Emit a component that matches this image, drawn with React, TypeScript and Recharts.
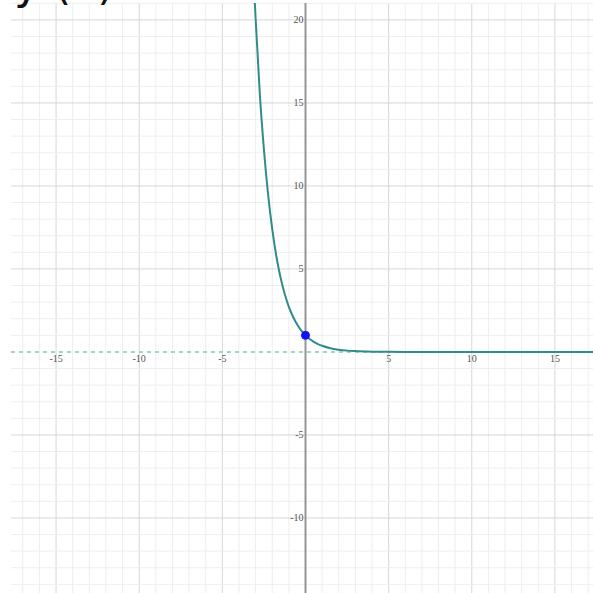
import { ComposedChart, Line, XAxis, YAxis, ReferenceLine, ReferenceDot } from 'recharts'

// visible window of the graph paper
const X_DOMAIN: [number, number] = [-17.71, 17.29]
const Y_DOMAIN: [number, number] = [-14.52, 21.02]

// sampled points of the decaying curve
const curveX = [-3.05, -3, -2.75, -2.5, -2.25, -2, -1.75, -1.5, -1.25, -1, -0.75, -0.5, -0.25, 0, 0.25, 0.5, 0.75, 1, 1.5, 2, 2.5, 3, 4, 5, 6, 8, 12, 17.3]
const curveY = [21.1, 20.1, 15.6, 12.2, 9.5, 7.4, 5.75, 4.48, 3.49, 2.72, 2.12, 1.65, 1.28, 1, 0.78, 0.61, 0.47, 0.37, 0.22, 0.135, 0.08, 0.05, 0.018, 0.007, 0.002, 0, 0, 0]

// the highlighted point on the curve
const markedPoint = { x: 0, y: 1 }

// axis numbers
const xTicks = [-15, -10, -5, 5, 10, 15]
const yTicks = [-10, -5, 5, 10, 15, 20]

const range = (a: number, b: number) => Array.from({ length: b - a + 1 }, (_, i) => a + i)
const gridX = range(-17, 17)
const gridY = range(-14, 21)

const curve = curveX.map((x, i) => ({ x, y: curveY[i] }))

const MINOR = '#eeeeee'
const MAJOR = '#d6d6d6'
const LABEL_FONT = '"Liberation Serif", "DejaVu Serif", serif'

export default function App() {
  return (
    <div style={{ position: 'absolute', left: 0, top: 0, width: 593, height: 593, background: '#fff', overflow: 'hidden' }}>
      <ComposedChart
        width={593}
        height={593}
        data={curve}
        margin={{ top: 3, right: 0, bottom: 0, left: 11 }}
      >
        <XAxis type="number" dataKey="x" domain={X_DOMAIN} allowDataOverflow hide />
        <YAxis type="number" domain={Y_DOMAIN} allowDataOverflow hide />

        {gridX.map((v) => (
          <ReferenceLine key={`gx${v}`} x={v} stroke={v % 5 === 0 ? MAJOR : MINOR} strokeWidth={1} />
        ))}
        {gridY.map((v) => (
          v === 0 ? null : <ReferenceLine key={`gy${v}`} y={v} stroke={v % 5 === 0 ? MAJOR : MINOR} strokeWidth={1} />
        ))}

        <ReferenceLine x={0} stroke="#959595" strokeWidth={2} />
        <ReferenceLine y={0} stroke="#a4d3cf" strokeWidth={2} strokeDasharray="4 4" />

        <Line
          type="monotone"
          dataKey="y"
          stroke="#2f8c87"
          strokeWidth={2}
          dot={false}
          activeDot={false}
          isAnimationActive={false}
        />

        <ReferenceDot x={markedPoint.x} y={markedPoint.y} r={4} fill="#1010ff" stroke="#1010ff" />

        {xTicks.map((v) => (
          <ReferenceDot
            key={`lx${v}`}
            x={v}
            y={0}
            shape={(p: any) => (
              <text x={p.cx} y={p.cy + 7} textAnchor="middle" dominantBaseline="central" fontSize={10} fontFamily={LABEL_FONT} fill="#555">
                {v}
              </text>
            )}
          />
        ))}
        {yTicks.map((v) => (
          <ReferenceDot
            key={`ly${v}`}
            x={0}
            y={v}
            shape={(p: any) => (
              <text x={p.cx - 2} y={p.cy} textAnchor="end" dominantBaseline="central" fontSize={10} fontFamily={LABEL_FONT} fill="#555">
                {v}
              </text>
            )}
          />
        ))}
      </ComposedChart>
      <svg width={593} height={20} style={{ position: 'absolute', left: 0, top: 0 }}>
        <text x={14} y={-1} fontSize={44} fontFamily='"DejaVu Sans", sans-serif' fill="#111">
          y (x)
        </text>
      </svg>
    </div>
  )
}
